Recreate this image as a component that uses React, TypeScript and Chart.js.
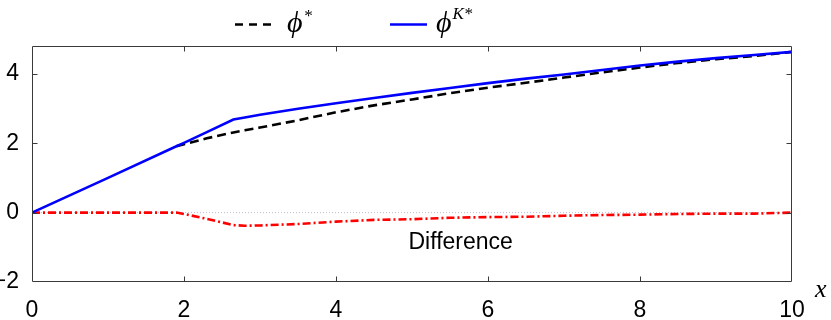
import React, { useEffect, useRef } from "react";
import { Chart, registerables } from "chart.js";

Chart.register(...registerables);

// ---- data ----
const xValues = [0, 1, 1.9, 2, 2.3, 2.65, 2.8, 3, 3.5, 4, 4.5, 5, 5.5, 6, 6.5, 7, 7.5, 8, 8.5, 9, 9.5, 10];
const phiK = [0, 1.0, 1.91, 2.01, 2.32, 2.68, 2.74, 2.82, 2.99, 3.15, 3.3, 3.45, 3.59, 3.73, 3.86, 3.98, 4.11, 4.24, 4.35, 4.45, 4.54, 4.63];
const phiStar = [null, null, 1.91, 1.97, 2.14, 2.31, 2.37, 2.45, 2.66, 2.89, 3.09, 3.26, 3.44, 3.6, 3.74, 3.89, 4.04, 4.18, 4.31, 4.42, 4.51, 4.63];
const difference = [0, 0, 0, -0.04, -0.18, -0.36, -0.38, -0.37, -0.33, -0.26, -0.21, -0.19, -0.15, -0.13, -0.12, -0.09, -0.07, -0.06, -0.04, -0.03, -0.03, 0];
const zeroLine = [0, 0];
const zeroX = [0, 10];
const xTicks = [0, 2, 4, 6, 8, 10];
const yTicks = [-2, 0, 2, 4];
const yMin = -2;
const yMax = 4.8;
const xMin = 0;
const xMax = 10;
const legendLabels = ["ϕ", "ϕ"];
const legendSups = ["*", "K*"];
const annotationText = "Difference";
const annotationPos = { x: 5.64, y: -0.87 };
const xAxisTitle = "x";

const pts = (xs: number[], ys: (number | null)[]) => xs.map((x, i) => ({ x, y: ys[i] }));

const fmt = (v: number) => (v < 0 ? "\u2212" + Math.abs(v) : String(v));

const decor = {
  id: "decor",
  afterDatasetsDraw(chart: any) {
    const { ctx, chartArea: a, scales } = chart;
    const x = scales.x;
    const y = scales.y;
    ctx.save();
    // box
    ctx.strokeStyle = "#3a3a3a";
    ctx.lineWidth = 1;
    const L = Math.round(a.left) + 0.5;
    const T = Math.round(a.top) + 0.5;
    const R = Math.round(a.right) - 0.5;
    const B = Math.round(a.bottom) - 0.5;
    ctx.beginPath();
    ctx.rect(L, T, R - L, B - T);
    ctx.stroke();
    // inward ticks
    const tl = 5;
    ctx.beginPath();
    xTicks.forEach((v) => {
      if (v === xMin || v === xMax) return;
      const px = Math.round(x.getPixelForValue(v)) + 0.5;
      ctx.moveTo(px, B);
      ctx.lineTo(px, B - tl);
      ctx.moveTo(px, T);
      ctx.lineTo(px, T + tl);
    });
    yTicks.forEach((v) => {
      if (v === yMin || v === yMax) return;
      const py = Math.round(y.getPixelForValue(v)) + 0.5;
      ctx.moveTo(L, py);
      ctx.lineTo(L + tl, py);
      ctx.moveTo(R, py);
      ctx.lineTo(R - tl, py);
    });
    ctx.stroke();

    // annotation
    ctx.fillStyle = "#000";
    ctx.font = '23px "Liberation Sans", Arial, sans-serif';
    ctx.textAlign = "center";
    ctx.textBaseline = "middle";
    ctx.fillText(annotationText, x.getPixelForValue(annotationPos.x), y.getPixelForValue(annotationPos.y));

    // x axis title
    ctx.font = 'italic 26px "Liberation Serif", "Times New Roman", serif';
    ctx.textAlign = "left";
    ctx.textBaseline = "alphabetic";
    ctx.fillText(xAxisTitle, a.right + 23, a.bottom + 15);

    // legend
    const ly = 24.5;
    ctx.lineWidth = 2.5;
    ctx.strokeStyle = "#000";
    ctx.setLineDash([8, 6]);
    ctx.beginPath();
    ctx.moveTo(235, ly);
    ctx.lineTo(273, ly);
    ctx.stroke();
    ctx.setLineDash([]);
    ctx.strokeStyle = "#0000ff";
    ctx.beginPath();
    ctx.moveTo(390, ly);
    ctx.lineTo(427, ly);
    ctx.stroke();

    ctx.fillStyle = "#000";
    const mainFont = 'italic 30px "Liberation Serif", "Times New Roman", serif';
    const supFont = 'italic 17px "Liberation Serif", "Times New Roman", serif';
    const starts = [287, 436];
    const supY = [21, 19];
    legendLabels.forEach((t, i) => {
      ctx.font = mainFont;
      ctx.fillText(t, starts[i], 32);
      const w = ctx.measureText(t).width;
      ctx.font = supFont;
      ctx.fillText(legendSups[i], starts[i] + w + 1, supY[i]);
    });
    ctx.restore();
  },
};

export default function App() {
  const ref = useRef<HTMLCanvasElement | null>(null);
  useEffect(() => {
    if (!ref.current) return;
    const chart = new Chart(ref.current, {
      type: "line",
      data: {
        datasets: [
          {
            label: "phiK",
            data: pts(xValues, phiK),
            borderColor: "#0000ff",
            borderWidth: 2.6,
            pointRadius: 0,
            tension: 0,
            fill: false,
          },
          {
            label: "phiStar",
            data: pts(xValues, phiStar),
            borderColor: "#000000",
            borderWidth: 2.6,
            borderDash: [9, 5],
            pointRadius: 0,
            tension: 0,
            fill: false,
          },
          {
            label: "difference",
            data: pts(xValues, difference),
            borderColor: "#ff0000",
            borderWidth: 2.6,
            borderDash: [8, 3, 2, 3],
            pointRadius: 0,
            tension: 0,
            fill: false,
          },
          {
            label: "zero",
            data: pts(zeroX, zeroLine),
            borderColor: "rgba(170,170,210,0.8)",
            borderWidth: 1,
            borderDash: [1, 2],
            pointRadius: 0,
            fill: false,
          },
        ],
      },
      options: {
        animation: false,
        responsive: false,
        maintainAspectRatio: false,
        layout: { padding: { top: 46, right: 39, left: 0, bottom: 0 } },
        plugins: { legend: { display: false }, tooltip: { enabled: false } },
        scales: {
          x: {
            type: "linear",
            min: xMin,
            max: xMax,
            grid: { display: false },
            border: { display: false },
            afterBuildTicks: (s: any) => {
              s.ticks = xTicks.map((v) => ({ value: v }));
            },
            afterFit: (s: any) => {
              s.height = 38;
            },
            ticks: {
              color: "#000",
              padding: 7,
              maxRotation: 0,
              autoSkip: false,
              font: { family: '"Liberation Sans", Arial, sans-serif', size: 23 },
              callback: (v: any) => fmt(Number(v)),
            },
          },
          y: {
            type: "linear",
            min: yMin,
            max: yMax,
            grid: { display: false },
            border: { display: false },
            afterBuildTicks: (s: any) => {
              s.ticks = yTicks.map((v) => ({ value: v }));
            },
            afterFit: (s: any) => {
              s.width = 32;
            },
            ticks: {
              color: "#000",
              padding: 5,
              autoSkip: false,
              font: { family: '"Liberation Sans", Arial, sans-serif', size: 23 },
              callback: (v: any) => fmt(Number(v)),
            },
          },
        },
      },
      plugins: [decor],
    } as any);
    return () => chart.destroy();
  }, []);
  return (
    <div style={{ position: "fixed", left: 0, top: 0, width: 831, height: 320, background: "#fff" }}>
      <canvas ref={ref} width={831} height={320} style={{ width: 831, height: 320, display: "block" }} />
    </div>
  );
}
